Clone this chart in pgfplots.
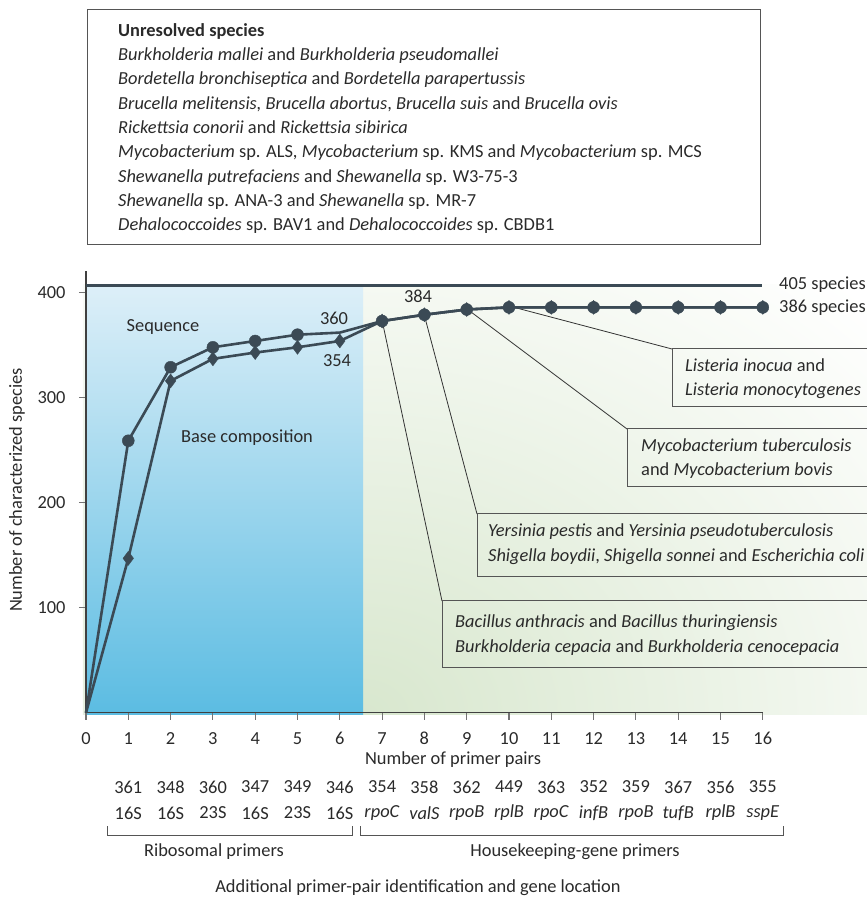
\documentclass[border=0pt]{standalone}
\usepackage{pgfplots}
\pgfplotsset{compat=1.18}
\usepackage{fontspec}
\setmainfont{Carlito}
\definecolor{ln}{HTML}{3B4A55}
\definecolor{bt}{HTML}{DDEFF8}
\definecolor{bb}{HTML}{5BBCE2}
\definecolor{gbg}{HTML}{D8E7CE}
\definecolor{txt}{HTML}{2A2A2A}
\definecolor{bx}{HTML}{555555}
\newcommand{\px}[2]{({#1-86},{712.7-#2})}
\begin{document}
\begin{tikzpicture}[x=1bp,y=1bp,font=\fontsize{18.4bp}{21bp}\selectfont, text=txt]
\path[use as bounding box] \px{0}{0} rectangle \px{867}{898};
% backgrounds
\begin{scope}
\clip \px{83}{285} rectangle \px{867}{715};
\shade[inner color=gbg, outer color=white] \px{363}{715} ellipse (720 and 580);
\end{scope}
\shade[top color=bt, bottom color=bb] \px{86}{285} rectangle \px{363}{715};
% leader lines
\draw[black!80, line width=0.8bp] \px{509}{306} -- \px{672}{349};
\draw[black!80, line width=0.8bp] \px{467}{309} -- \px{627}{429};
\draw[black!80, line width=0.8bp] \px{424}{314} -- \px{477}{514};
\draw[black!80, line width=0.8bp] \px{382}{320} -- \px{442}{601};
\begin{axis}[anchor=origin, at={(0,0)}, x=42.3bp, y=1.05bp,
  xmin=0, xmax=16, ymin=0, ymax=421, clip=false,
  axis x line*=bottom, axis y line*=left,
  axis line style={draw=black!75, line width=1.3bp, -},
  xtick={0,...,16}, ytick={100,200,300,400},
  tick align=outside, major tick length=7bp,
  tick style={draw=black!55, line width=1.1bp},
  tick label style={font=\fontsize{18.4bp}{21bp}\selectfont, text=txt},
  /pgf/number format/assume math mode=true,
  yticklabel style={xshift=-10bp},
  xticklabel style={yshift=-9bp},
  ]
\addplot[ln, line width=3bp, no marks] coordinates {(0,406.5) (15.98,406.5)};
\addplot[ln, line width=2.6bp, no marks] coordinates {
 (0,0) (1,259) (2,329) (3,348) (4,354) (5,360) (6,362) (7,373) (8,379) (9,384)
 (10,386) (11,386) (12,386) (13,386) (14,386) (15,386) (16,386)};
\addplot[ln, line width=2.6bp, no marks] coordinates {
 (0,0) (1,147) (2,316) (3,337) (4,343) (5,348) (6,354) (7,373) (8,379) (9,384)
 (10,386) (11,386) (12,386) (13,386) (14,386) (15,386) (16,386)};
\addplot[only marks, mark=*, mark size=6bp, mark options={draw=ln, fill=ln}] coordinates {
 (1,259) (2,329) (3,348) (4,354) (5,360) (7,373) (8,379) (9,384)
 (10,386) (11,386) (12,386) (13,386) (14,386) (15,386) (16,386)};
\addplot[only marks, mark=diamond*, mark size=7bp, mark options={draw=ln, fill=ln}] coordinates {
 (1,147) (2,316) (3,337) (4,343) (5,348) (6,354) (7,373) (8,379) (9,384)
 (10,386) (11,386) (12,386) (13,386) (14,386) (15,386) (16,386)};
\end{axis}
% top box
\draw[bx, line width=1bp] \px{88}{10} rectangle \px{760}{245};
\begin{scope}[every node/.style={anchor=base west, inner sep=0pt}]
\node at \px{118}{37} {\textbf{Unresolved species}};
\node at \px{118}{61} {\textit{Burkholderia mallei} and \textit{Burkholderia pseudomallei}};
\node at \px{118}{85} {\textit{Bordetella bronchiseptica} and \textit{Bordetella parapertussis}};
\node at \px{118}{110} {\textit{Brucella melitensis, Brucella abortus}, \textit{Brucella suis} and \textit{Brucella ovis}};
\node at \px{118}{134} {\textit{Rickettsia conorii} and \textit{Rickettsia sibirica}};
\node at \px{118}{158} {\textit{Mycobacterium} sp. ALS, \textit{Mycobacterium} sp. KMS and \textit{Mycobacterium} sp. MCS};
\node at \px{118}{183} {\textit{Shewanella putrefaciens} and \textit{Shewanella} sp. W3-75-3};
\node at \px{118}{207} {\textit{Shewanella} sp. ANA-3 and \textit{Shewanella} sp. MR-7};
\node at \px{118}{231} {\textit{Dehalococcoides} sp. BAV1 and \textit{Dehalococcoides} sp. CBDB1};
% right annotations
\node at \px{779}{290} {405 species};
\node at \px{779}{313} {386 species};
\node at \px{685}{372} {\textit{Listeria inocua} and};
\node at \px{685}{396} {\textit{Listeria monocytogenes}};
\node at \px{641}{452} {\textit{Mycobacterium tuberculosis}};
\node at \px{641}{476} {and \textit{Mycobacterium bovis}};
\node at \px{488}{537} {\textit{Yersinia pestis} and \textit{Yersinia pseudotuberculosis}};
\node at \px{488}{562} {\textit{Shigella boydii}, \textit{Shigella sonnei} and \textit{Escherichia coli}};
\node at \px{455}{628} {\textit{Bacillus anthracis} and \textit{Bacillus thuringiensis}};
\node at \px{455}{653} {\textit{Burkholderia cepacia} and \textit{Burkholderia cenocepacia}};
\end{scope}
\draw[bx, line width=1bp] \px{870}{349} -- \px{672}{349} -- \px{672}{407} -- \px{870}{407};
\draw[bx, line width=1bp] \px{870}{429} -- \px{627}{429} -- \px{627}{487} -- \px{870}{487};
\draw[bx, line width=1bp] \px{870}{514} -- \px{477}{514} -- \px{477}{577} -- \px{870}{577};
\draw[bx, line width=1bp] \px{870}{601} -- \px{442}{601} -- \px{442}{668} -- \px{870}{668};
% in-plot labels
\node at \px{163}{327} {Sequence};
\node at \px{247}{438} {Base composition};
\node at \px{334}{318} {360};
\node at \px{337}{361} {354};
\node at \px{418}{296} {384};
% axis titles
\node[rotate=90] at \px{17}{490} {Number of characterized species};
\node at \px{453}{760} {Number of primer pairs};
% bottom table
\foreach \n [count=\i] in {361,348,360,347,349,346,354,358,362,449,363,352,359,367,356,355}
  \node at \px{86+42.3*\i}{787} {\n};
\foreach \g [count=\i] in {16S,16S,23S,16S,23S,16S,\textit{rpoC},\textit{valS},\textit{rpoB},\textit{rplB},\textit{rpoC},\textit{infB},\textit{rpoB},\textit{tufB},\textit{rplB},\textit{sspE}}
  \node at \px{86+42.3*\i}{813} {\g};
\draw[bx, line width=1bp] \px{107}{826} -- \px{107}{835} -- \px{352}{835} -- \px{352}{826};
\draw[bx, line width=1bp] \px{360}{826} -- \px{360}{835} -- \px{783}{835} -- \px{783}{826};
\node at \px{214}{852} {Ribosomal primers};
\node at \px{575}{852} {Housekeeping-gene primers};
\node at \px{418}{888} {Additional primer-pair identification and gene location};
\end{tikzpicture}
\end{document}
